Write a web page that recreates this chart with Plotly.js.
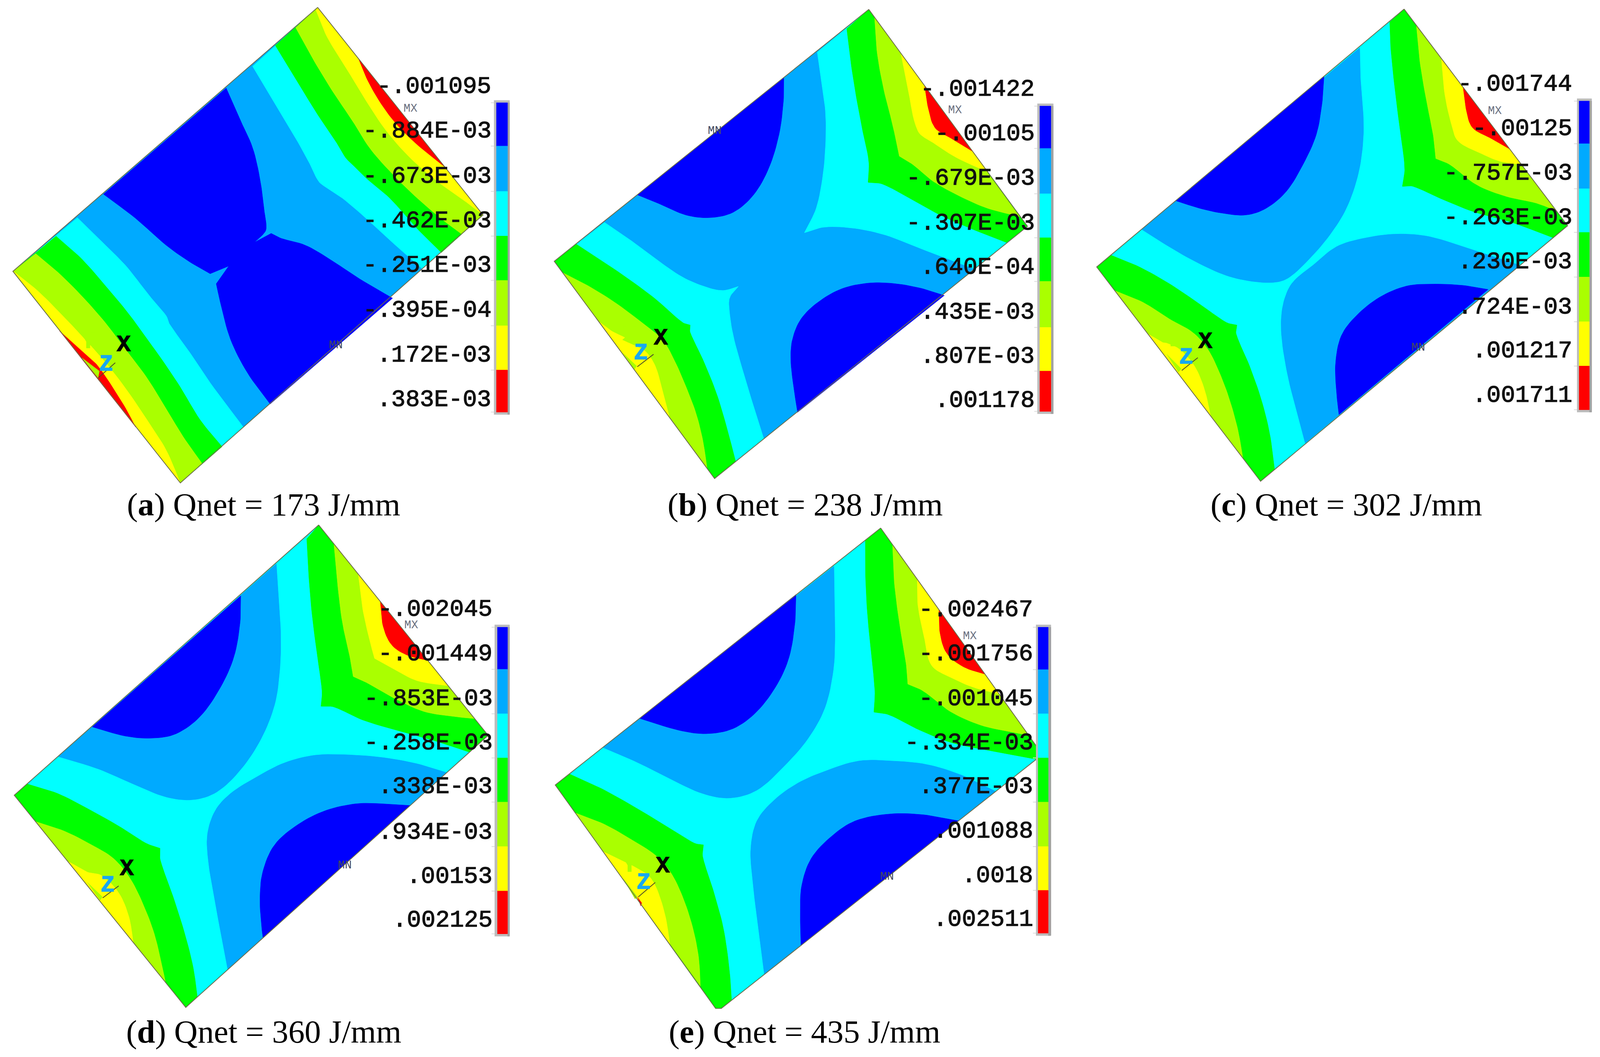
<!DOCTYPE html>
<html><head><meta charset="utf-8">
<script src="https://cdn.plot.ly/plotly-3.0.1.min.js"></script>
<style>html,body{margin:0;padding:0;background:#fff;overflow:hidden}</style></head>
<body><div id="chart"></div>
<script>
// Band colours, coolest to hottest
const DARK='#0000ff', LIGHT='#00aaff', CYAN='#00ffff', GREEN='#00ff00', LIME='#aaff00', YELLOW='#ffff00', RED='#ff0000';
const barColours=[DARK,LIGHT,CYAN,GREEN,LIME,YELLOW,RED];

// ---------- Panel a ----------
const aLabels=['-.001095','-.884E-03','-.673E-03','-.462E-03','-.251E-03','-.395E-04','.172E-03','.383E-03'];
const aCaption='(<b>a</b>) Qnet = 173 J/mm';
const aRect=[[937,22],[1425,640],[532,1438],[38,808]];
const aDark=[[667,262],[705,350],[745,440],[768,540],[778,620],[785,668],[782,690],[750,722],[800,695],[830,710],[900,730],[970,770],[1060,830],[1158,888],[797,1203],[730,1110],[680,1010],[650,900],[638,845],[675,792],[620,815],[560,780],[490,730],[400,650],[305,578]];
const aLeftCyan=[[228,648],[300,720],[370,790],[440,880],[490,940],[500,965],[560,1050],[620,1140],[718,1272],[532,1438],[38,808]];
const aLeftGreen=[[165,703],[240,770],[310,850],[380,935],[430,1005],[470,1060],[530,1150],[590,1250],[655,1330],[532,1438],[38,808]];
const aLeftLime=[[105,755],[170,810],[240,880],[310,960],[370,1040],[430,1120],[480,1200],[540,1300],[596,1380],[532,1438],[38,808]];
const aLeftYellow=[[40,808],[110,865],[180,935],[250,1010],[320,1090],[380,1170],[440,1260],[490,1340],[532,1438]];
const aLeftRed=[[175,985],[230,1035],[280,1080],[300,1105],[330,1150],[370,1215],[400,1272]];
const aLeftPatch=[[242,1066],[293,1105],[289,1125]];
const aRightCyan=[[745,197],[800,290],[860,390],[910,480],[940,540],[965,560],[1010,590],[1080,650],[1150,715],[1245,800],[1425,640],[937,22]];
const aRightGreen=[[812,135],[870,230],[930,330],[990,420],[1020,470],[1040,490],[1080,530],[1150,590],[1230,680],[1302,752],[1425,640],[937,22]];
const aRightLime=[[872,82],[920,170],[980,270],[1040,360],[1090,440],[1150,510],[1220,580],[1300,650],[1362,697],[1425,640],[937,22]];
const aRightYellow=[[932,30],[965,110],[1020,200],[1080,300],[1140,390],[1210,470],[1290,540],[1360,590],[1425,640],[937,22]];
const aRightRed=[[1057,173],[1085,240],[1125,310],[1170,370],[1230,430],[1312,497]];
const aBarX=[1457,1464,1497,1503];
const aBarEdges=[306,435,570,703,835,970,1102,1227];
const aLabelY=[257,390,525,658,790,924,1058,1190];

// ---------- Panel b ----------
const bLabels=['-.001422','-.00105','-.679E-03','-.307E-03','.640E-04','.435E-03','.807E-03','.001178'];
const bCaption='(<b>b</b>) Qnet = 238 J/mm';
const bRect=[[960,28],[1428,674],[505,1425],[32,778]];
const bDarkUp=[[709,232],[708,300],[695,400],[665,500],[620,580],[560,632],[490,648],[420,640],[350,610],[277,580]];
const bDarkLow=[[1183,880],[1120,860],[1040,845],[960,843],[880,860],[810,900],[760,950],[735,1010],[730,1070],[738,1150],[750,1228]];
const bLeftCyan=[[180,662],[250,710],[330,770],[410,825],[480,855],[530,865],[575,853],[550,885],[548,920],[560,1000],[590,1110],[620,1210],[650,1306],[505,1425],[32,778]];
const bRightCyan=[[808,155],[820,240],[832,330],[833,420],[825,520],[805,620],[770,693],[830,676],[920,680],[1010,700],[1100,735],[1190,770],[1270,800],[1428,674],[960,28]];
const bLeftGreen=[[97,727],[170,775],[250,830],[330,890],[410,960],[433,968],[433,990],[470,1070],[510,1170],[540,1270],[567,1374],[505,1425],[32,778]];
const bLeftLime=[[57,812],[130,850],[210,900],[290,960],[350,1010],[385,1070],[420,1150],[450,1230],[470,1310],[483,1395]];
const bLeftYellow=[[163,957],[200,985],[240,1005],[232,1012],[270,1030],[300,1045],[330,1090],[350,1160],[372,1243]];
const bLeftPatch=[[235,1052],[275,1090],[268,1100]];
const bRightGreen=[[895,85],[905,170],[920,270],[940,380],[960,480],[958,543],[1000,548],[1080,590],[1170,640],[1260,680],[1366,722],[1428,674],[960,28]];
const bRightLime=[[977,52],[985,160],[1005,270],[1030,370],[1050,465],[1090,490],[1150,540],[1230,585],[1310,620],[1405,645]];
const bRightYellow=[[1055,160],[1075,260],[1105,390],[1150,425],[1220,470],[1313,513]];
const bRightRed=[[1125,257],[1135,320],[1155,380],[1200,410],[1265,450]];
const bBarX=[1457,1464,1497,1504];
const bBarEdges=[316,442,577,708,838,975,1105,1225];
const bLabelY=[266,398,531,664,796,929,1061,1192];

// ---------- Panel c ----------
const cLabels=['-.001744','-.00125','-.757E-03','-.263E-03','.230E-03','.724E-03','.001217','.001711'];
const cCaption='(<b>c</b>) Qnet = 302 J/mm';
const cRect=[[973,27],[1463,672],[543,1433],[52,795]];
const cLightUp=[[840,142],[842,230],[850,330],[850,420],[835,520],[800,620],[750,700],[690,770],[630,825],[590,840],[520,838],[440,820],[350,780],[270,735],[187,683]];
const cLightLow=[[677,1320],[650,1220],[625,1120],[608,1020],[605,950],[615,890],[640,840],[700,790],[770,735],[850,710],[950,697],[1050,705],[1180,745],[1320,790]];
const cDarkUp=[[733,228],[728,300],[710,400],[670,490],[620,570],[560,620],[500,640],[430,635],[360,620],[290,598]];
const cDarkLow=[[1225,862],[1150,850],[1060,846],[980,852],[900,885],[830,940],[785,1000],[768,1080],[770,1160],[778,1235]];
const cLeftGreen=[[95,760],[180,795],[270,845],[360,905],[440,960],[472,968],[470,995],[510,1090],[545,1190],[570,1290],[585,1398],[543,1433],[52,795]];
const cLeftLime=[[105,865],[190,900],[270,950],[340,990],[385,1040],[420,1110],[450,1190],[475,1280],[490,1364]];
const cLeftYellow=[[205,994],[250,1020],[262,1022],[300,1040],[345,1090],[375,1160],[393,1238]];
const cLeftPatch=[[262,1055],[305,1098],[297,1108]];
const cRightGreen=[[930,65],[933,140],[945,260],[960,380],[975,500],[968,555],[1000,555],[1080,590],[1180,630],[1290,660],[1420,708],[1463,672],[973,27]];
const cRightLime=[[1010,77],[1020,180],[1040,300],[1060,400],[1068,472],[1110,490],[1190,550],[1280,585],[1370,605],[1430,628]];
const cRightYellow=[[1085,175],[1095,280],[1115,370],[1135,420],[1200,455],[1260,480],[1325,490]];
const cRightRed=[[1150,260],[1160,330],[1178,380],[1230,410],[1290,444]];
const cBarX=[1491,1497,1528,1535];
const cBarEdges=[301,428,562,692,825,958,1090,1220];
const cLabelY=[250,383,516,648,780,914,1045,1177];

// ---------- Panel d ----------
const dLabels=['-.002045','-.001449','-.853E-03','-.258E-03','.338E-03','.934E-03','.00153','.002125'];
const dCaption='(<b>d</b>) Qnet = 360 J/mm';
const dRect=[[940,5],[1440,620],[548,1415],[42,795]];
const dLightUp=[[815,118],[822,220],[828,330],[825,430],[810,530],[770,630],[710,720],[640,785],[570,808],[490,800],[400,765],[290,718],[172,682]];
const dLightLow=[[1318,729],[1230,703],[1130,685],[1030,677],[930,678],[840,700],[760,740],[680,790],[635,840],[612,910],[615,990],[630,1080],[650,1190],[672,1304]];
const dDarkUp=[[710,212],[708,290],[690,390],[650,480],[590,565],[520,615],[450,628],[370,622],[272,595]];
const dDarkLow=[[1210,825],[1130,820],[1050,820],[960,840],[880,880],[810,940],[775,1020],[767,1100],[772,1180],[776,1212]];
const dLeftGreen=[[80,762],[170,790],[260,835],[350,885],[430,935],[472,950],[473,985],[510,1090],[545,1200],[570,1300],[582,1385],[548,1415],[42,795]];
const dLeftLime=[[105,872],[190,900],[270,940],[335,980],[385,1040],[425,1120],[455,1200],[475,1280],[488,1341]];
const dLeftYellow=[[200,988],[240,1010],[258,1020],[300,1030],[350,1080],[380,1150],[393,1225]];
const dLeftPatch=[[258,1050],[302,1092],[295,1102]];
const dRightGreen=[[905,45],[910,140],[920,260],[935,380],[950,490],[947,535],[985,537],[1070,575],[1170,605],[1280,635],[1385,669],[1440,620],[940,5]];
const dRightLime=[[985,60],[995,170],[1010,290],[1030,380],[1042,448],[1080,465],[1160,510],[1250,550],[1340,565],[1400,571]];
const dRightYellow=[[1057,149],[1070,250],[1090,340],[1105,395],[1160,425],[1230,460],[1322,475]];
const dRightRed=[[1122,229],[1130,300],[1155,355],[1200,385],[1262,401]];
const dBarX=[1459,1467,1497,1503];
const dBarEdges=[304,427,557,686,815,945,1075,1200];
const dLabelY=[252,382,513,642,770,903,1032,1160];

// ---------- Panel e ----------
const eLabels=['-.002467','-.001756','-.001045','-.334E-03','.377E-03','.001088','.0018','.002511'];
const eCaption='(<b>e</b>) Qnet = 435 J/mm';
const eRect=[[995,14],[1472,676],[525,1418],[508,1418],[35,765]];
const eLightUp=[[857,125],[858,220],[860,330],[855,430],[830,540],[780,630],[710,710],[630,780],[550,803],[470,790],[380,750],[280,700],[175,655]];
const eLightLow=[[1335,784],[1230,735],[1130,705],[1030,695],[930,695],[830,725],[750,760],[680,810],[630,870],[612,950],[617,1040],[630,1150],[652,1319]];
const eDarkUp=[[745,208],[742,290],[725,390],[690,470],[630,550],[560,600],[480,615],[400,605],[283,570]];
const eDarkLow=[[1225,870],[1120,852],[1020,850],[920,870],[850,915],[790,980],[762,1060],[758,1140],[760,1234]];
const eLeftGreen=[[77,733],[170,775],[270,830],[370,890],[445,935],[472,940],[470,975],[500,1070],[530,1180],[548,1300],[555,1394],[525,1418],[508,1418],[35,765]];
const eLeftLime=[[95,847],[180,880],[260,925],[330,970],[375,1020],[410,1090],[440,1180],[458,1270],[463,1353]];
const eLeftYellow=[[177,960],[230,985],[270,1005],[310,1030],[335,1070],[360,1150],[373,1230]];
const eLeftPatch=[[235,1038],[277,1092],[270,1098]];
const eLeftRed=[[277,1092],[290,1110],[287,1119]];
const eRightGreen=[[950,50],[950,140],[955,250],[965,360],[978,490],[975,552],[1020,560],[1100,600],[1200,640],[1320,665],[1455,690],[1472,676],[995,14]];
const eRightLime=[[1030,63],[1035,170],[1050,290],[1070,410],[1075,470],[1120,490],[1200,550],[1290,590],[1380,610],[1432,620]];
const eRightYellow=[[1103,164],[1105,240],[1125,340],[1145,415],[1200,450],[1270,480],[1345,499]];
const eRightRed=[[1167,253],[1170,320],[1190,380],[1240,420],[1303,441]];
const eBarX=[1453,1459,1489,1497];
const eBarEdges=[304,428,557,686,815,945,1073,1198];
const eLabelY=[253,382,513,642,770,900,1030,1158];

// Marker labels [x,y] in each panel
const aMarks={MX:[1211,323],MN:[990,1028],X:[365,1027],Z:[313,1085],Y:[260,1018],tri:[[290,1125],[340,1080]]};
const bMarks={MX:[1215,328],MN:[505,390],X:[347,1007],Z:[288,1052],Y:[255,1000],tri:[[277,1092],[325,1055]]};
const cMarks={MX:[1245,330],MN:[1015,1035],X:[378,1018],Z:[320,1065],Y:[280,1012],tri:[[307,1103],[355,1065]]};
const dMarks={MX:[1213,298],MN:[1017,1000],X:[374,1010],Z:[317,1058],Y:[278,1004],tri:[[303,1095],[350,1060]]};
const eMarks={MX:[1258,330],MN:[1013,1033],X:[353,1003],Z:[295,1050],Y:[255,1000],tri:[[280,1092],[330,1050]]};

// Reference page size; the crops below are in its pixels. The drawing fills the actual window.
const W=4299,H=2707;
const pageW=Math.min(window.innerWidth||W,W), pageH=H;
const sx=pageW/W;
const panels=[
 {id:'',  crop:[0,0,1420,1340],   range:[1559,1558], rect:aRect, layers:[[LIGHT,aRect],[DARK,aDark],[CYAN,aLeftCyan],[GREEN,aLeftGreen],[LIME,aLeftLime],[YELLOW,aLeftYellow],[RED,aLeftRed],[LIME,aLeftPatch],[CYAN,aRightCyan],[GREEN,aRightGreen],[LIME,aRightLime],[YELLOW,aRightYellow],[RED,aRightRed]], barX:aBarX,edges:aBarEdges,labels:aLabels,labelY:aLabelY,labelX:1452,caption:aCaption,capXY:[778,1502],marks:aMarks},
 {id:'2', crop:[1460,0,1420,1340],range:[1559,1558], rect:bRect, layers:[[LIGHT,bRect],[DARK,bDarkUp],[DARK,bDarkLow],[CYAN,bLeftCyan],[CYAN,bRightCyan],[GREEN,bLeftGreen],[LIME,bLeftLime],[YELLOW,bLeftYellow],[LIME,bLeftPatch],[GREEN,bRightGreen],[LIME,bRightLime],[YELLOW,bRightYellow],[RED,bRightRed]], barX:bBarX,edges:bBarEdges,labels:bLabels,labelY:bLabelY,labelX:1452,caption:bCaption,capXY:[772,1502],marks:bMarks},
 {id:'3', crop:[2900,0,1399,1340],range:[1560,1558], rect:cRect, layers:[[CYAN,cRect],[LIGHT,cLightUp],[LIGHT,cLightLow],[DARK,cDarkUp],[DARK,cDarkLow],[GREEN,cLeftGreen],[LIME,cLeftLime],[YELLOW,cLeftYellow],[LIME,cLeftPatch],[GREEN,cRightGreen],[LIME,cRightLime],[YELLOW,cRightYellow],[RED,cRightRed]], barX:cBarX,edges:cBarEdges,labels:cLabels,labelY:cLabelY,labelX:1479,caption:cCaption,capXY:[800,1502],marks:cMarks},
 {id:'4', crop:[0,1340,1420,1367],range:[1559,1560], rect:dRect, layers:[[CYAN,dRect],[LIGHT,dLightUp],[LIGHT,dLightLow],[DARK,dDarkUp],[DARK,dDarkLow],[GREEN,dLeftGreen],[LIME,dLeftLime],[YELLOW,dLeftYellow],[LIME,dLeftPatch],[GREEN,dRightGreen],[LIME,dRightLime],[YELLOW,dRightYellow],[RED,dRightRed]], barX:dBarX,edges:dBarEdges,labels:dLabels,labelY:dLabelY,labelX:1455,caption:dCaption,capXY:[778,1486],marks:dMarks},
 {id:'5', crop:[1460,1340,1420,1367],range:[1559,1560], rect:eRect, layers:[[CYAN,eRect],[LIGHT,eLightUp],[LIGHT,eLightLow],[DARK,eDarkUp],[DARK,eDarkLow],[GREEN,eLeftGreen],[LIME,eLeftLime],[YELLOW,eLeftYellow],[LIME,eLeftPatch],[RED,eLeftRed],[GREEN,eRightGreen],[LIME,eRightLime],[YELLOW,eRightYellow],[RED,eRightRed]], barX:eBarX,edges:eBarEdges,labels:eLabels,labelY:eLabelY,labelX:1447,caption:eCaption,capXY:[770,1486],marks:eMarks}
];

// Rounds the outline between read points (drawing only); keeps corners and the ends sharp.
function rounded(pts,corners){
  const key=q=>q[0]+','+q[1], fixed=new Set(corners.map(key));
  const n=pts.length;
  const sharp=pts.map((q,i)=>{
    if(i===0||i===n-1||fixed.has(key(q))) return true;
    const a=[q[0]-pts[i-1][0],q[1]-pts[i-1][1]], b=[pts[i+1][0]-q[0],pts[i+1][1]-q[1]];
    const c=(a[0]*b[0]+a[1]*b[1])/(Math.hypot(...a)*Math.hypot(...b));
    return c<Math.cos(45*Math.PI/180);
  });
  const out=[];
  const dir=(i,fallback)=>{
    if(sharp[i]) return fallback;
    const d=[pts[i+1][0]-pts[i-1][0],pts[i+1][1]-pts[i-1][1]],l=Math.hypot(...d);
    return [d[0]/l,d[1]/l];
  };
  for(let i=0;i<n-1;i++){
    const p0=pts[i],p1=pts[i+1],L=Math.hypot(p1[0]-p0[0],p1[1]-p0[1]);
    const chord=[(p1[0]-p0[0])/L,(p1[1]-p0[1])/L];
    const d0=dir(i,chord),d1=dir(i+1,chord);
    for(let k=0;k<8;k++){
      const t=k/8,t2=t*t,t3=t2*t;
      const h00=2*t3-3*t2+1,h10=t3-2*t2+t,h01=-2*t3+3*t2,h11=t3-t2;
      out.push([h00*p0[0]+h10*L*d0[0]+h01*p1[0]+h11*L*d1[0],h00*p0[1]+h10*L*d0[1]+h01*p1[1]+h11*L*d1[1]]);
    }
  }
  out.push(pts[n-1]);
  return out;
}

const traces=[], annotations=[];
const layout={width:pageW,height:pageH,margin:{l:0,r:0,t:0,b:0},paper_bgcolor:'#fff',plot_bgcolor:'rgba(0,0,0,0)',showlegend:false,annotations};
const MONO='"Liberation Mono", monospace', SERIF='"Liberation Serif", serif';

panels.forEach(p=>{
  const xa='x'+p.id, ya='y'+p.id;
  const [cx,cy,cw,ch]=p.crop;
  const axisBase={visible:false,fixedrange:true,showgrid:false,zeroline:false};
  layout['xaxis'+p.id]=Object.assign({},axisBase,{domain:[cx/W,(cx+cw)/W],range:[0,p.range[0]],anchor:ya});
  layout['yaxis'+p.id]=Object.assign({},axisBase,{domain:[1-(cy+ch)/H,1-cy/H],range:[p.range[1],0],anchor:xa});
  const fillPoly=(pts,col)=>traces.push({type:'scatter',mode:'lines',x:pts.map(q=>q[0]),y:pts.map(q=>q[1]),fill:'toself',fillcolor:col,line:{color:col,width:1},xaxis:xa,yaxis:ya,hoverinfo:'skip'});
  const stroke=(pts,col,w)=>traces.push({type:'scatter',mode:'lines',x:pts.map(q=>q?q[0]:null),y:pts.map(q=>q?q[1]:null),line:{color:col,width:w},xaxis:xa,yaxis:ya,hoverinfo:'skip',connectgaps:false});
  p.layers.forEach(l=>fillPoly(l[1]===p.rect?l[1]:rounded(l[1],p.rect),l[0]));
  stroke(p.rect.concat([p.rect[0]]),'#6b6b4a',2);
  stroke(p.marks.tri,'#4a4a2a',2);
  // colour bar: outer frame, shaded right side, then the seven bands
  const [b0,i0,i1,b1]=p.barX, e=p.edges;
  fillPoly([[b0,e[0]-7],[b1,e[0]-7],[b1,e[7]+7],[b0,e[7]+7]],'#bcbcbc');
  fillPoly([[i1,e[0]],[b1,e[0]],[b1,e[7]+7],[i1,e[7]+7]],'#a2a2a2');
  barColours.forEach((c,i)=>fillPoly([[i0,e[i]],[i1,e[i]],[i1,e[i+1]],[i0,e[i+1]]],c));
  const ticks=[]; e.forEach(v=>{ticks.push([b0-9,v],[b0,v],null)});
  stroke(ticks,'#dcdcdc',2);
  // value labels
  p.labels.forEach((t,i)=>annotations.push({xref:xa,yref:ya,x:p.labelX,y:p.labelY[i],text:t,showarrow:false,xanchor:'right',yanchor:'middle',font:{family:MONO,size:64*sx,color:'#111'}}));
  // small and triad markers
  const mark=(t,xy,col,size,bold)=>annotations.push({xref:xa,yref:ya,x:xy[0],y:xy[1],text:bold?'<b>'+t+'</b>':t,showarrow:false,xanchor:'center',yanchor:'middle',font:{family:MONO,size:size*sx,color:col}});
  mark('MX',p.marks.MX,'#6a7080',31,false);
  mark('MN',p.marks.MN,'#444a60',31,false);
  mark('Y',p.marks.Y,LIME,62,true);
  mark('Z',p.marks.Z,'#18a8f0',62,true);
  mark('X',p.marks.X,'#000',62,true);
  // caption
  annotations.push({xref:xa,yref:ya,x:p.capXY[0],y:p.capXY[1],text:p.caption,showarrow:false,xanchor:'center',yanchor:'middle',font:{family:SERIF,size:87.5*sx,color:'#000'}});
});

Plotly.newPlot('chart',traces,layout,{displayModeBar:false,staticPlot:true}).then(gd=>{
  // heavier strokes on the monospaced plot labels, as in the reference
  gd.querySelectorAll('.annotation-text').forEach(t=>{
    if((t.style.fontFamily||'').indexOf('Mono')>=0){
      const s=parseFloat(t.style.fontSize)||0;
      if(s>50){t.style.stroke=t.style.fill;t.style.strokeWidth='1.5px';}
    }
  });
});
</script></body></html>
